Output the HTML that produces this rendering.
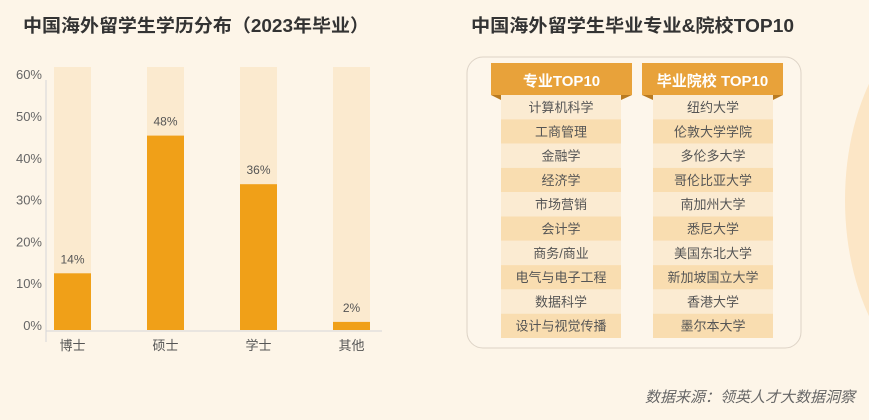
<!DOCTYPE html>
<html><head><meta charset="utf-8"><style>
body{margin:0;background:#FDF5E8;}
svg{display:block;font-family:"Liberation Sans","Noto Sans CJK SC",sans-serif;}
</style></head><body>
<svg width="869" height="420" viewBox="0 0 869 420">
<rect width="869" height="420" fill="#FDF5E8"/>
<ellipse cx="960" cy="200" rx="115" ry="190" fill="#FCE6C6"/>
<text x="23" y="32" font-size="18" font-weight="bold" fill="#333" textLength="346" lengthAdjust="spacingAndGlyphs">中国海外留学生学历分布（2023年毕业）</text>
<text x="471" y="32" font-size="18" font-weight="bold" fill="#333" textLength="323" lengthAdjust="spacingAndGlyphs">中国海外留学生毕业专业&amp;院校TOP10</text>
<g id="chart"></g>
<g>
<rect x="467" y="57" width="334" height="291" rx="16" fill="#FDF6EB" stroke="#DDD3C6" stroke-width="1"/>
<g id="table"></g>
</g>
<text x="855" y="402" font-size="15" font-style="italic" fill="#666" text-anchor="end">数据来源：领英人才大数据洞察</text>
</svg>
<script>
const categories=["博士","硕士","学士","其他"];
const values=[14,48,36,2];
const valueLabels=["14%","48%","36%","2%"];
const tickLabels=["0%","10%","20%","30%","40%","50%","60%"];
const majors=["计算机科学","工商管理","金融学","经济学","市场营销","会计学","商务/商业","电气与电子工程","数据科学","设计与视觉传播"];
const schools=["纽约大学","伦敦大学学院","多伦多大学","哥伦比亚大学","南加州大学","悉尼大学","美国东北大学","新加坡国立大学","香港大学","墨尔本大学"];
const NS="http://www.w3.org/2000/svg";
function mk(t,a,p){const e=document.createElementNS(NS,t);for(const k in a)e.setAttribute(k,a[k]);p.appendChild(e);return e;}
const g=document.getElementById('chart');
const y0=330, k=4.05;
const yv=v=>y0-v*k;
const xb=i=>54+i*93;
const tickY=i=>325-i*41.8;
mk('line',{x1:46,y1:80,x2:46,y2:342,stroke:'#D5D5D8'},g);
mk('line',{x1:46,y1:331,x2:382,y2:331,stroke:'#D5D5D8'},g);
tickLabels.forEach((t,i)=>{const e=mk('text',{x:42,y:tickY(i)+5,'font-size':13,fill:'#666','text-anchor':'end'},g);e.textContent=t;

});
categories.forEach((c,i)=>{
 const bg=mk('rect',{x:xb(i),y:67,width:37,height:y0-67,fill:'#FBEACF'},g);
 
 
 const b=mk('rect',{x:xb(i),y:yv(values[i]),width:37,height:values[i]*k,fill:'#F0A018'},g);
 
 
 const l=mk('text',{x:xb(i)+18.5,y:yv(values[i])-10,'font-size':12,fill:'#555','text-anchor':'middle'},g);l.textContent=valueLabels[i];
 
 
 const x=mk('text',{x:xb(i)+18.5,y:350,'font-size':13,fill:'#555','text-anchor':'middle'},g);x.textContent=c;
 
 
});
const tg=document.getElementById('table');
function col(hx,bx,title,items,name){
 const cg=mk('g',{},tg);
 
 
 mk('polygon',{points:`${hx},95 ${bx},95 ${bx},100`,fill:'#B97A20'},cg);
 mk('polygon',{points:`${hx+141},95 ${bx+120},95 ${bx+120},100`,fill:'#B97A20'},cg);
 items.forEach((t,i)=>{
  const y=95+i*24.3;
  mk('rect',{x:bx,y:y,width:120,height:24.3,fill:i%2?'#F9DDB0':'#FBEBD2'},cg);
  const e=mk('text',{x:bx+60,y:y+17,'font-size':13,fill:'#555','text-anchor':'middle'},cg);e.textContent=t;
  
  
 });
 mk('rect',{x:hx,y:63,width:141,height:32,fill:'#E8A23A'},cg);
 const h=mk('text',{x:hx+70.5,y:86,'font-size':15,'font-weight':'bold',fill:'#fff','text-anchor':'middle'},cg);h.textContent=title;
 
 
}
col(491,501,"专业TOP10",majors,'majors-column');
col(642,653,"毕业院校 TOP10",schools,'schools-column');
</script>
</body></html>
